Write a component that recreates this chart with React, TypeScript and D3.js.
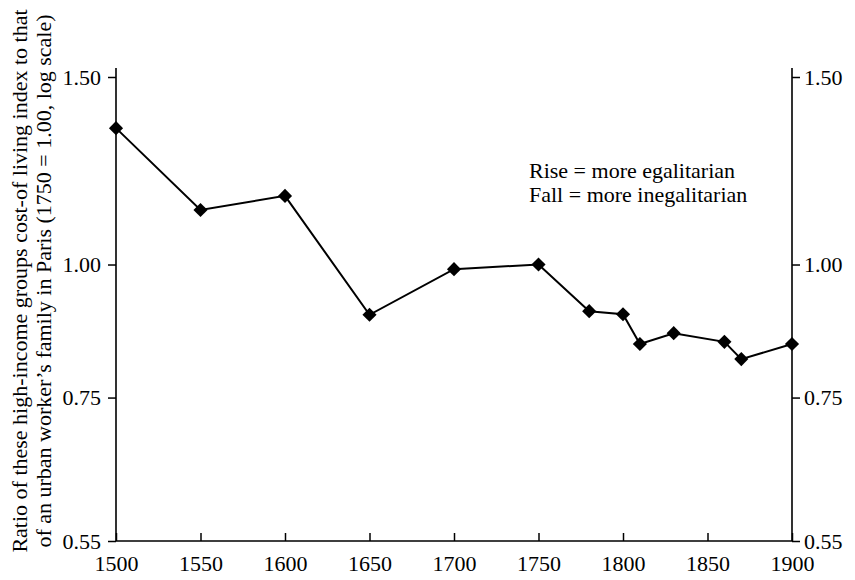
import React, { useEffect, useRef } from "react";
import * as d3 from "d3";

// years and ratio values (1750 = 1.00)
const years = [1500, 1550, 1600, 1650, 1700, 1750, 1780, 1800, 1810, 1830, 1860, 1870, 1900];
const ratios = [1.343, 1.125, 1.16, 0.897, 0.99, 1.0, 0.904, 0.898, 0.842, 0.862, 0.846, 0.815, 0.842];

const xTicks = [1500, 1550, 1600, 1650, 1700, 1750, 1800, 1850, 1900];
const yTicks = [0.55, 0.75, 1.0, 1.5];

const yLabelLines = [
  "Ratio of these high-income groups cost-of living index to that",
  "of an urban worker\u2019s family in Paris (1750 = 1.00, log scale)",
];
const noteLines = ["Rise = more egalitarian", "Fall = more inegalitarian"];

const W = 855;
const H = 580;
const FONT = "'Liberation Serif', 'Times New Roman', serif";

const App = () => {
  const ref = useRef<SVGSVGElement>(null);

  useEffect(() => {
    const svg = d3.select(ref.current);
    svg.selectAll("*").remove();

    const left = 116;
    const right = 792;
    const top = 77;
    const bottom = 541;

    const x = d3.scaleLinear().domain([1500, 1900]).range([left, right]);
    const y = d3.scaleLog().domain([0.55, 1.5]).range([bottom, top]);
    const fmt = d3.format(".2f");

    // left axis
    const gl = svg
      .append("g")
      .attr("transform", `translate(${left},0)`)
      .call(d3.axisLeft(y).tickValues(yTicks).tickFormat(fmt).tickSize(8).tickPadding(7));
    // right axis
    const gr = svg
      .append("g")
      .attr("transform", `translate(${right},0)`)
      .call(d3.axisRight(y).tickValues(yTicks).tickFormat(fmt).tickSize(8).tickPadding(4));
    // bottom axis, ticks pointing inward
    const gb = svg
      .append("g")
      .attr("transform", `translate(0,${bottom})`)
      .call(d3.axisBottom(x).tickValues(xTicks).tickFormat(d3.format("d")).tickSize(-8).tickPadding(14));

    [gl, gr, gb].forEach((g) => {
      g.select(".domain").remove();
      g.selectAll("line").attr("stroke", "#000").attr("stroke-width", 1.5);
      g.selectAll("text")
        .attr("fill", "#000")
        .style("font-family", FONT)
        .style("font-size", "22px");
    });

    // axis lines (verticals run a bit above the top tick)
    svg
      .append("path")
      .attr("d", `M${left},${top - 9}V${bottom}H${right}V${top - 9}`)
      .attr("fill", "none")
      .attr("stroke", "#000")
      .attr("stroke-width", 1.6);

    const data = years.map((yr, i) => ({ yr, v: ratios[i] }));

    const line = d3
      .line<{ yr: number; v: number }>()
      .x((d) => x(d.yr))
      .y((d) => y(d.v));

    svg
      .append("path")
      .datum(data)
      .attr("d", line)
      .attr("fill", "none")
      .attr("stroke", "#000")
      .attr("stroke-width", 2);

    // diamond markers = squares turned 45 degrees
    const diamond = d3.symbol(d3.symbolSquare, 100);
    svg
      .selectAll("path.pt")
      .data(data)
      .enter()
      .append("path")
      .attr("class", "pt")
      .attr("d", diamond)
      .attr("transform", (d) => `translate(${x(d.yr)},${y(d.v)}) rotate(45)`)
      .attr("fill", "#000");

    // y axis title, two rotated lines
    svg
      .append("g")
      .attr("transform", "translate(27,281) rotate(-90)")
      .selectAll("text")
      .data(yLabelLines)
      .enter()
      .append("text")
      .attr("x", 0)
      .attr("y", (_, i) => i * 24)
      .attr("text-anchor", "middle")
      .style("font-family", FONT)
      .style("font-size", "22px")
      .text((d) => d);

    // note
    svg
      .selectAll("text.note")
      .data(noteLines)
      .enter()
      .append("text")
      .attr("class", "note")
      .attr("x", 529)
      .attr("y", (_, i) => 178 + i * 24)
      .style("font-family", FONT)
      .style("font-size", "22px")
      .text((d) => d);
  }, []);

  return (
    <svg
      ref={ref}
      width={W}
      height={H}
      style={{ position: "absolute", left: 0, top: 0, background: "#fff" }}
    />
  );
};

export default App;
